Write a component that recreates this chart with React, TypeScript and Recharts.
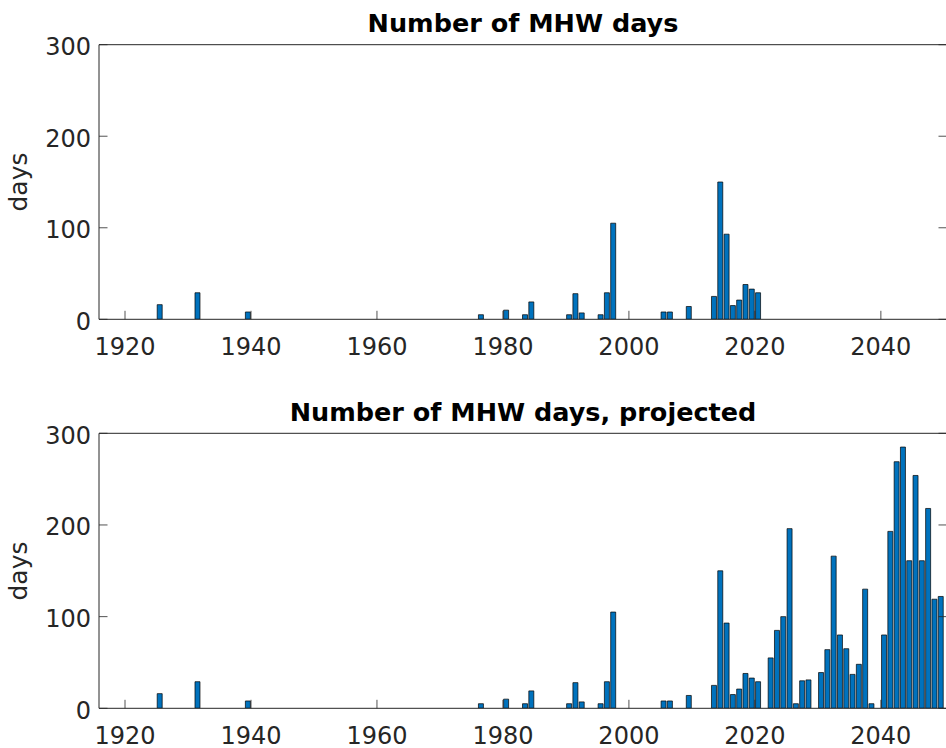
import React from 'react';
import { BarChart, Bar, XAxis, YAxis } from 'recharts';

// ---- data ----
const yearsObserved = [1925, 1931, 1939, 1976, 1980, 1983, 1984, 1990, 1991, 1992, 1995, 1996, 1997, 2005, 2006, 2009, 2013, 2014, 2015, 2016, 2017, 2018, 2019, 2020];
const daysObserved = [16, 29, 8, 5, 10, 5, 19, 5, 28, 7, 5, 29, 105, 8, 8, 14, 25, 150, 93, 15, 21, 38, 33, 29];
const yearsProjected = [2022, 2023, 2024, 2025, 2026, 2027, 2028, 2030, 2031, 2032, 2033, 2034, 2035, 2036, 2037, 2038, 2040, 2041, 2042, 2043, 2044, 2045, 2046, 2047, 2048, 2049];
const daysProjected = [55, 85, 100, 196, 5, 30, 31, 39, 64, 166, 80, 65, 37, 48, 130, 5, 80, 193, 269, 285, 161, 254, 161, 218, 119, 122];
const xTicks = [1920, 1940, 1960, 1980, 2000, 2020, 2040];
const yTicks = [0, 100, 200, 300];
const xDomain = [1915.87, 2050.5];
const yDomain = [0, 300];
const titleTop = 'Number of MHW days';
const titleBottom = 'Number of MHW days, projected';
const yLabel = 'days';
// bars are drawn at mid-year
const MID_YEAR = 0.45;

// ---- style ----
const FONT = '"DejaVu Sans", "Liberation Sans", sans-serif';
const AXIS = '#262626';
const BAR_FILL = '#0072BD';
const TICK_LEN = 8.5;
const CHART_W = 960;
const CHART_H = 374;

const buildRows = (years: number[], values: number[]) =>
  years.map((yr, i) => ({ x: yr + MID_YEAR, days: values[i] }));

const observedRows = buildRows(yearsObserved, daysObserved);
const projectedRows = buildRows(
  [...yearsObserved, ...yearsProjected],
  [...daysObserved, ...daysProjected]
);

const XTickBottom = (props: any) => {
  const { x, y, payload } = props;
  return (
    <g>
      <line x1={x} x2={x} y1={y} y2={y - TICK_LEN} stroke={AXIS} strokeWidth={0.8} />
      <text x={x} y={y + 35.7} textAnchor="middle" fontSize={24} fill={AXIS} fontFamily={FONT}>
        {payload.value}
      </text>
    </g>
  );
};

const XTickTop = (props: any) => {
  const { x, y } = props;
  return <line x1={x} x2={x} y1={y} y2={y + TICK_LEN} stroke={AXIS} strokeWidth={0.8} />;
};

const YTickLeft = (props: any) => {
  const { x, y, payload } = props;
  return (
    <g>
      <line x1={x} x2={x + TICK_LEN} y1={y} y2={y} stroke={AXIS} strokeWidth={0.8} />
      <text x={x - 8} y={y + 10.5} textAnchor="end" fontSize={24} fill={AXIS} fontFamily={FONT}>
        {payload.value}
      </text>
    </g>
  );
};

const YTickRight = (props: any) => {
  const { x, y } = props;
  return <line x1={x} x2={x - TICK_LEN} y1={y} y2={y} stroke={AXIS} strokeWidth={0.8} />;
};

const Panel = ({ rows, plotTop, plotBottom }: { rows: any[]; plotTop: number; plotBottom: number }) => (
  <BarChart
    width={CHART_W}
    height={CHART_H}
    data={rows}
    margin={{ top: plotTop - 1, right: 12, bottom: CHART_H - plotBottom - 1, left: 98 }}
  >
    <XAxis
      dataKey="x"
      type="number"
      domain={xDomain}
      ticks={xTicks}
      allowDataOverflow
      height={1}
      tickSize={0}
      tickMargin={0}
      tickLine={false}
      interval={0}
      axisLine={{ stroke: AXIS, strokeWidth: 1 }}
      tick={<XTickBottom />}
    />
    <XAxis
      xAxisId="top"
      orientation="top"
      type="number"
      domain={xDomain}
      ticks={xTicks}
      allowDataOverflow
      height={1}
      tickSize={0}
      tickMargin={0}
      tickLine={false}
      interval={0}
      axisLine={{ stroke: AXIS, strokeWidth: 1 }}
      tick={<XTickTop />}
    />
    <YAxis
      type="number"
      domain={yDomain}
      ticks={yTicks}
      allowDataOverflow
      width={1}
      tickSize={0}
      tickMargin={0}
      tickLine={false}
      interval={0}
      axisLine={{ stroke: AXIS, strokeWidth: 1 }}
      tick={<YTickLeft />}
    />
    <YAxis
      yAxisId="right"
      orientation="right"
      type="number"
      domain={yDomain}
      ticks={yTicks}
      allowDataOverflow
      width={1}
      tickSize={0}
      tickMargin={0}
      tickLine={false}
      interval={0}
      axisLine={{ stroke: AXIS, strokeWidth: 1 }}
      tick={<YTickRight />}
    />
    <Bar dataKey="days" fill={BAR_FILL} stroke="#000" strokeWidth={0.7} barSize={5} isAnimationActive={false} />
  </BarChart>
);

export default function App() {
  return (
    <div
      style={{
        position: 'absolute',
        left: 0,
        top: 0,
        width: 946,
        height: 748,
        overflow: 'hidden',
        background: '#fff',
      }}
    >
      <div style={{ position: 'absolute', left: 0, top: 0 }}>
        <Panel rows={observedRows} plotTop={44.7} plotBottom={319.3} />
      </div>
      <div style={{ position: 'absolute', left: 0, top: CHART_H }}>
        <Panel rows={projectedRows} plotTop={433.3 - CHART_H} plotBottom={708.3 - CHART_H} />
      </div>
      <svg
        width={946}
        height={748}
        style={{ position: 'absolute', left: 0, top: 0, pointerEvents: 'none' }}
      >
        <text x={523} y={31.8} textAnchor="middle" fontSize={25.5} fontWeight="bold" fill="#000" fontFamily={FONT}>
          {titleTop}
        </text>
        <text x={523} y={420.5} textAnchor="middle" fontSize={25.5} fontWeight="bold" fill="#000" fontFamily={FONT}>
          {titleBottom}
        </text>
        <text
          x={27}
          y={182}
          transform="rotate(-90 27 182)"
          textAnchor="middle"
          fontSize={25}
          fill={AXIS}
          fontFamily={FONT}
        >
          {yLabel}
        </text>
        <text
          x={27}
          y={571}
          transform="rotate(-90 27 571)"
          textAnchor="middle"
          fontSize={25}
          fill={AXIS}
          fontFamily={FONT}
        >
          {yLabel}
        </text>
      </svg>
    </div>
  );
}
